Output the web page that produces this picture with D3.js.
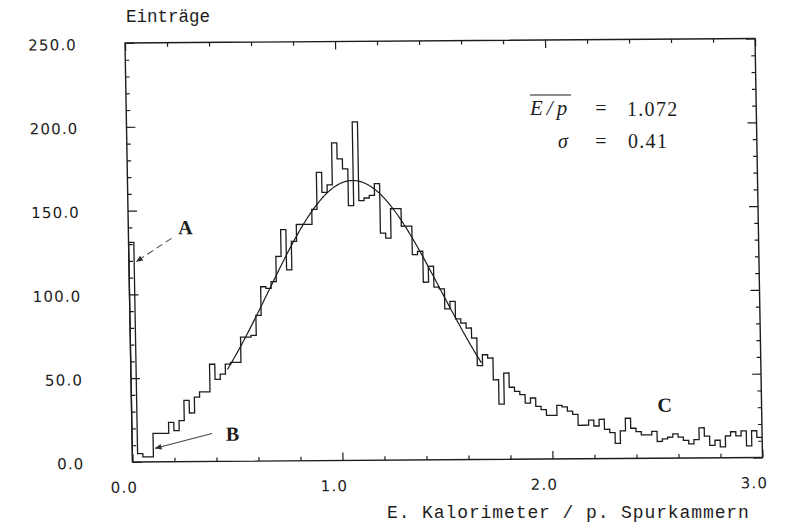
<!DOCTYPE html>
<html>
<head>
<meta charset="utf-8">
<script src="https://cdn.jsdelivr.net/npm/d3@7"></script>
<style>
  html, body { margin: 0; padding: 0; background: #fff; }
  svg { display: block; }
</style>
</head>
<body>
<svg id="chart" width="785" height="528"></svg>
<script>
// E/p distribution: bin width 0.025, range 0.0 .. 3.0
const binWidth = 0.025;
const counts = [
  131, 5, 3, 3, 17, 17, 17, 23.5, 18.5, 24.5,
  36.5, 29, 38.5, 41.5, 41.5, 58, 49, 52, 58, 59,
  59, 74, 74, 75, 87, 104, 103, 107, 122, 138,
  114, 131, 141, 141, 141, 150, 172, 160, 164.5, 189.5,
  180, 174, 152, 202, 155, 156.5, 158, 165, 135.5, 132.5,
  150, 150, 139.5, 139.5, 122.5, 124.5, 106, 115.5, 103, 102,
  90, 94.5, 84, 81.5, 78.5, 72.5, 56, 62.5, 60.5, 47.5,
  33, 51.5, 43, 40.5, 38.5, 33.5, 36.5, 31.5, 29.5, 26,
  26, 32, 31, 28.5, 26.5, 20, 20, 23, 19.5, 23.5,
  17.5, 15.5, 9, 16.5, 24, 18, 16, 14, 14, 16,
  10, 11.5, 12.5, 14.5, 12.5, 10.5, 8.5, 11, 18, 13,
  7.5, 10.5, 6.5, 13, 15.5, 13, 16, 7, 16, 12
];

// Gaussian fit parameters (mean and width as quoted on the plot)
const fitMean = 1.072;
const fitSigma = 0.41;
const fitAmplitude = 167;
const fitRange = [0.46, 1.67];

// Axis ticks
const xTicksMajor = [0, 1, 2, 3];
const xTicksMinor = [0.2, 0.4, 0.6, 0.8, 1.2, 1.4, 1.6, 1.8, 2.2, 2.4, 2.6, 2.8];
const yTicksMajor = [0, 50, 100, 150, 200, 250];
const yTicksMinor = [10, 20, 30, 40, 60, 70, 80, 90, 110, 120, 130, 140,
                     160, 170, 180, 190, 210, 220, 230, 240];

const ink = "#1d1d1d";
const W = 630, H = 419;

const svg = d3.select("#chart");

// Plot frame, slightly sheared like the printed page
const g = svg.append("g")
  .attr("transform", "matrix(1,-0.00714,0.0179,1,125,43)");

const x = d3.scaleLinear().domain([0, 3]).range([0, W]);
const y = d3.scaleLinear().domain([0, 250]).range([H, 0]);

function styleAxis(sel) {
  sel.select(".domain").remove();
  sel.selectAll(".tick line").attr("stroke", ink).attr("stroke-width", 1.2);
  sel.selectAll(".tick text")
    .attr("fill", ink)
    .style("font-family", "'DejaVu Sans', sans-serif")
    .style("font-size", "15px")
    .style("letter-spacing", "1.2px");
}

// bottom
g.append("g").attr("transform", `translate(0,${H})`)
  .call(d3.axisBottom(x).tickValues(xTicksMinor).tickSize(-4).tickFormat(""))
  .call(styleAxis);
g.append("g").attr("transform", `translate(0,${H})`)
  .call(d3.axisBottom(x).tickValues(xTicksMajor).tickSize(-8).tickPadding(20)
        .tickFormat(d3.format(".1f")))
  .call(styleAxis)
  .call(s => s.selectAll(".tick text").attr("dx", -9));
// top
g.append("g")
  .call(d3.axisTop(x).tickValues(xTicksMinor).tickSize(-4).tickFormat(""))
  .call(styleAxis);
g.append("g")
  .call(d3.axisTop(x).tickValues(xTicksMajor).tickSize(-8).tickFormat(""))
  .call(styleAxis);
// left
g.append("g")
  .call(d3.axisLeft(y).tickValues(yTicksMinor).tickSize(-4).tickFormat(""))
  .call(styleAxis);
g.append("g")
  .call(d3.axisLeft(y).tickValues(yTicksMajor).tickSize(-9).tickPadding(48)
        .tickFormat(d3.format(".1f")))
  .call(styleAxis)
  .call(s => s.selectAll(".tick text").attr("dy", "0.42em"));
// right
g.append("g").attr("transform", `translate(${W},0)`)
  .call(d3.axisRight(y).tickValues(yTicksMinor).tickSize(-4).tickFormat(""))
  .call(styleAxis);
g.append("g").attr("transform", `translate(${W},0)`)
  .call(d3.axisRight(y).tickValues(yTicksMajor).tickSize(-9).tickFormat(""))
  .call(styleAxis);

// frame
g.append("rect")
  .attr("x", 0).attr("y", 0).attr("width", W).attr("height", H)
  .attr("fill", "none").attr("stroke", ink).attr("stroke-width", 1.4);

// histogram outline
const steps = [[0, 0]]
  .concat(counts.map((c, i) => [i * binWidth, c]))
  .concat([[counts.length * binWidth, counts[counts.length - 1]]]);

g.append("path")
  .datum(steps)
  .attr("fill", "none")
  .attr("stroke", ink)
  .attr("stroke-width", 1.3)
  .attr("stroke-linejoin", "miter")
  .attr("d", d3.line().x(d => x(d[0])).y(d => y(d[1])).curve(d3.curveStepAfter));

// Gaussian fit
const fitX = d3.range(fitRange[0], fitRange[1] + 1e-9, 0.005);
g.append("path")
  .datum(fitX)
  .attr("fill", "none")
  .attr("stroke", ink)
  .attr("stroke-width", 1.2)
  .attr("d", d3.line()
    .x(d => x(d))
    .y(d => y(fitAmplitude * Math.exp(-0.5 * Math.pow((d - fitMean) / fitSigma, 2)))));

// annotation arrows
const defs = svg.append("defs");
defs.append("marker")
  .attr("id", "head")
  .attr("viewBox", "0 0 10 10")
  .attr("refX", 9).attr("refY", 5)
  .attr("markerWidth", 7).attr("markerHeight", 7)
  .attr("markerUnits", "userSpaceOnUse")
  .attr("orient", "auto")
  .append("path").attr("d", "M0,1 L10,5 L0,9 Z").attr("fill", "#333");

g.append("line")
  .attr("x1", 43).attr("y1", 195.6).attr("x2", 7.5).attr("y2", 218.6)
  .attr("stroke", "#444").attr("stroke-width", 1)
  .attr("stroke-dasharray", "7,4")
  .attr("marker-end", "url(#head)");
g.append("line")
  .attr("x1", 80).attr("y1", 391).attr("x2", 23).attr("y2", 405.5)
  .attr("stroke", "#444").attr("stroke-width", 1)
  .attr("marker-end", "url(#head)");

const markLabels = [
  { t: "A", x: 57, y: 184.5 },
  { t: "B", x: 100.5, y: 391.5 },
  { t: "C", x: 533, y: 365.5 }
];
g.selectAll("text.mark")
  .data(markLabels)
  .join("text")
  .attr("class", "mark")
  .attr("x", d => d.x).attr("y", d => d.y)
  .attr("dy", "0.35em")
  .attr("text-anchor", "middle")
  .attr("fill", ink)
  .style("font-family", "'Liberation Serif', serif")
  .style("font-weight", "bold")
  .style("font-size", "20px")
  .text(d => d.t);

// axis titles
svg.append("text")
  .attr("x", 126).attr("y", 22)
  .attr("fill", ink)
  .style("font-family", "'Liberation Mono', monospace")
  .style("font-size", "17.5px")
  .text("Einträge");

svg.append("text")
  .attr("x", 387).attr("y", 518)
  .attr("fill", ink)
  .style("font-family", "'Liberation Mono', monospace")
  .style("font-size", "18px")
  .style("letter-spacing", "0.9px")
  .text("E. Kalorimeter / p. Spurkammern");

// fit results
const stat = svg.append("g")
  .attr("fill", ink)
  .style("font-family", "'Liberation Serif', serif")
  .style("font-size", "20px");

stat.append("text").attr("x", 530).attr("y", 115)
  .style("font-style", "italic").style("font-size", "21px")
  .style("letter-spacing", "4px").text("E/p");
stat.append("line").attr("x1", 530).attr("x2", 571).attr("y1", 95).attr("y2", 95)
  .attr("stroke", ink).attr("stroke-width", 1);
stat.append("text").attr("x", 601).attr("y", 115).attr("text-anchor", "middle").text("=");
stat.append("text").attr("x", 627).attr("y", 116).style("letter-spacing", "1.3px")
  .text(d3.format(".3f")(fitMean));

stat.append("text").attr("x", 558).attr("y", 148)
  .style("font-style", "italic").text("σ");
stat.append("text").attr("x", 601).attr("y", 148).attr("text-anchor", "middle").text("=");
stat.append("text").attr("x", 628).attr("y", 148).style("letter-spacing", "1.3px")
  .text(d3.format(".2f")(fitSigma));
</script>
</body>
</html>
